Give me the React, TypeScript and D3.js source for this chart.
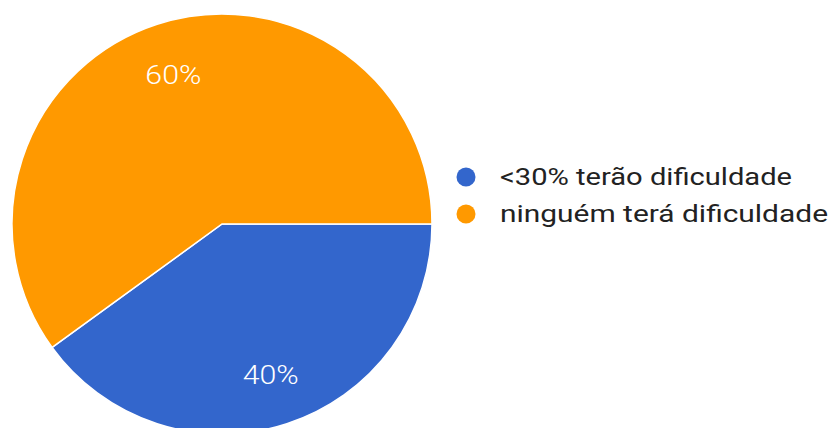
import React from "react";
import * as d3 from "d3";

const categories = ["<30% terão dificuldade", "ninguém terá dificuldade"];
const values = [40, 60];
const colors = ["#3366CC", "#FF9900"];

export default function App() {
  const width = 829;
  const height = 428;
  const cx = 222;
  const cy = 224;
  const r = 210;
  const pie = d3
    .pie<number>()
    .sort(null)
    .startAngle(Math.PI / 2)
    .endAngle(Math.PI / 2 + 2 * Math.PI);
  const arcs = pie(values);
  const arc = d3.arc<d3.PieArcDatum<number>>().innerRadius(0).outerRadius(r);
  const labelArc = d3
    .arc<d3.PieArcDatum<number>>()
    .innerRadius(r * 0.75)
    .outerRadius(r * 0.75);
  const total = d3.sum(values);
  return (
    <svg
      width={width}
      height={height}
      style={{ position: "absolute", left: 0, top: 0, fontFamily: "Roboto, Arial, sans-serif" }}
    >
      <rect width={width} height={height} fill="#fff" />
      <g transform={`translate(${cx},${cy})`}>
        {arcs.map((a, i) => (
          <path key={i} d={arc(a) || ""} fill={colors[i]} stroke="#fff" strokeWidth={1.5} />
        ))}
        {arcs.map((a, i) => {
          const [x, y] = labelArc.centroid(a);
          return (
            <text
              key={"l" + i}
              x={x}
              y={y + 1}
              textAnchor="middle"
              dominantBaseline="central"
              fill="#fff"
              fontSize={26}
              fontWeight={300}
              textLength={56}
              lengthAdjust="spacingAndGlyphs"
            >
              {Math.round((values[i] / total) * 100) + "%"}
            </text>
          );
        })}
      </g>
      {categories.map((c, i) => (
        <g key={"g" + i} transform={`translate(466,${177 + i * 37})`}>
          <circle r={9.5} fill={colors[i]} />
          <text
            x={34}
            y={0}
            dominantBaseline="central"
            fontSize={24}
            fill="#222"
            textLength={i === 0 ? 292 : 328}
            lengthAdjust="spacingAndGlyphs"
          >
            {c}
          </text>
        </g>
      ))}
    </svg>
  );
}
